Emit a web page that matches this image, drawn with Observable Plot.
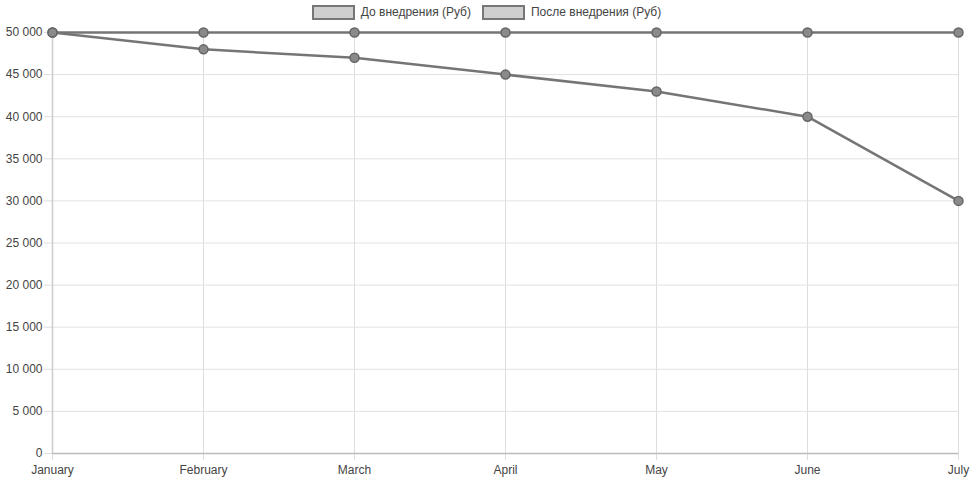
<!DOCTYPE html>
<html><head><meta charset="utf-8">
<script src="https://cdn.jsdelivr.net/npm/d3@7"></script>
<script src="https://cdn.jsdelivr.net/npm/@observablehq/plot@0.6"></script>
<style>
body{margin:0;background:#fff;font-family:"Liberation Sans",Arial,sans-serif;}
#legend{height:24px;display:flex;justify-content:center;align-items:center;gap:11px;font-size:12px;color:#444;padding-right:2px;}
.item{display:flex;align-items:center;gap:6px;}
.sw{width:39px;height:11px;background:#cfcfcf;border:2px solid #777;box-sizing:content-box;}
</style></head>
<body>
<div id="legend"></div>
<div id="chart"></div>
<script>
const months = ["January","February","March","April","May","June","July"];
const seriesNames = ["До внедрения (Руб)","После внедрения (Руб)"];
const before = [50000,50000,50000,50000,50000,50000,50000];
const after = [50000,48000,47000,45000,43000,40000,30000];
const yTicks = [0,5000,10000,15000,20000,25000,30000,35000,40000,45000,50000];

const leg = document.getElementById("legend");
for (const s of seriesNames) {
  const it = document.createElement("div"); it.className = "item";
  const sw = document.createElement("div"); sw.className = "sw";
  const t = document.createElement("span"); t.textContent = s;
  it.append(sw, t); leg.append(it);
}

const data = [];
months.forEach((m,i)=>{ data.push({month:m, value:before[i], series:seriesNames[0]}); data.push({month:m, value:after[i], series:seriesNames[1]}); });

const fmt = d => d3.format(",")(d).replace(/,/g, " ");

const chart = Plot.plot({
  width: 975, height: 463,
  marginLeft: 52, marginRight: 17, marginTop: 8, marginBottom: 34,
  style: {fontFamily: "'Liberation Sans', Arial, sans-serif", fontSize: "12px", background: "#fff"},
  x: {type: "point", domain: months, padding: 0},
  y: {domain: [0, 50000]},
  marks: [
    Plot.gridX(months, {stroke: "#ddd", strokeOpacity: 1}),
    Plot.gridY(yTicks, {stroke: "#e2e2e2", strokeOpacity: 1}),
    Plot.axisX(months, {tickSize: 7, stroke: "#ddd", color: "#ddd", fill: "#444", tickPadding: 5, label: null, fontSize: 12}),
    Plot.axisY(yTicks, {tickSize: 8, stroke: "#ddd", color: "#ddd", fill: "#444", tickPadding: 2, tickFormat: fmt, label: null, fontSize: 12}),
    Plot.ruleY([0], {stroke: "#bbb", strokeWidth: 1.5}),
    Plot.ruleX([months[0]], {stroke: "#ccc", strokeWidth: 1.5}),
    Plot.line(data, {x: "month", y: "value", z: "series", stroke: "#757575", strokeWidth: 2.5}),
    Plot.dot(data, {x: "month", y: "value", r: 4.5, fill: "#8a8a8a", stroke: "#666", strokeWidth: 1.5})
  ]
});
document.getElementById("chart").append(chart);
</script>
</body></html>
